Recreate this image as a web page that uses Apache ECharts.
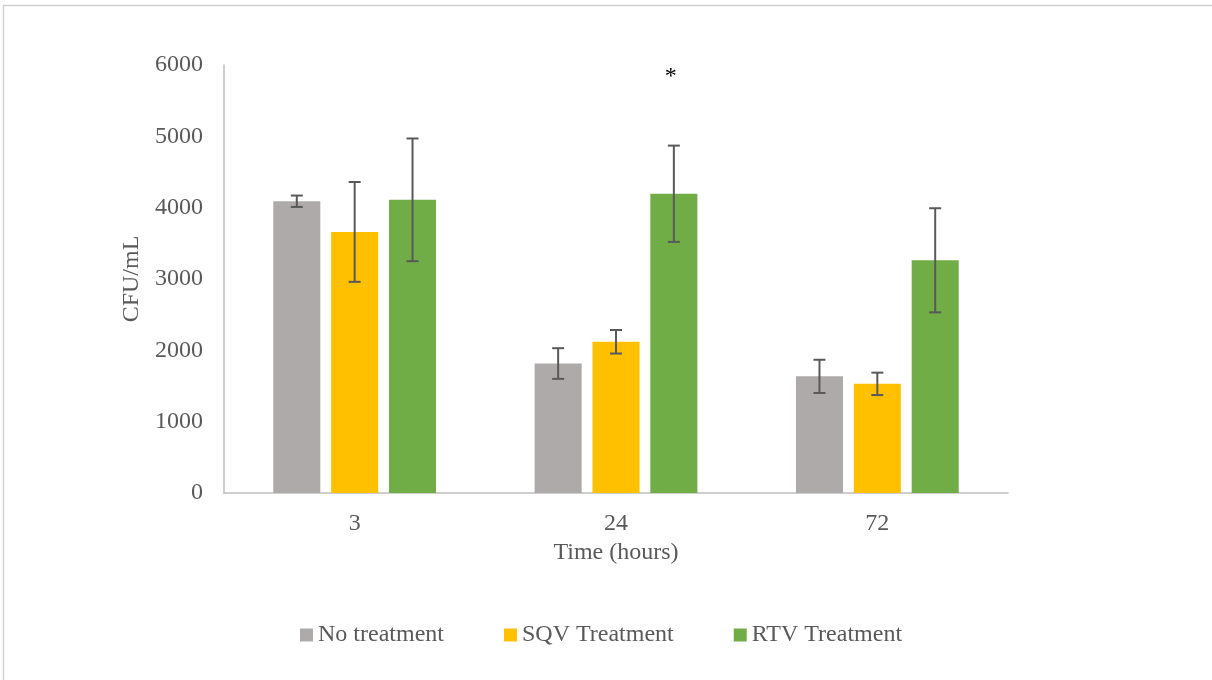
<!DOCTYPE html>
<html>
<head>
<meta charset="utf-8">
<script src="https://cdn.jsdelivr.net/npm/echarts@6/dist/echarts.min.js"></script>
<style>
  html, body { margin: 0; padding: 0; background: #fff; }
  #chart { width: 1212px; height: 680px; }
</style>
</head>
<body>
<div id="chart"></div>
<script>
// Colony counts over time for each treatment group
const timePoints = ['3', '24', '72'];
const seriesNames = ['No treatment', 'SQV Treatment', 'RTV Treatment'];
const noTreatment = [4090, 1815, 1635];
const sqvTreatment = [3660, 2120, 1530];
const rtvTreatment = [4110, 4195, 3262];
// Standard deviation for each bar
const noTreatmentErr = [80, 215, 233];
const sqvTreatmentErr = [700, 165, 157];
const rtvTreatmentErr = [860, 675, 730];
// Significance markers shown above the RTV bars
const rtvSignificance = ['', '*', ''];
const yTicks = [0, 1000, 2000, 3000, 4000, 5000, 6000];

const colors = ['#AEAAAA', '#FFC000', '#70AD47'];
const values = [noTreatment, sqvTreatment, rtvTreatment];
const errors = [noTreatmentErr, sqvTreatmentErr, rtvTreatmentErr];
const marks = [null, null, rtvSignificance];

const BAR_WIDTH_RATIO = 0.18;
const BAR_GAP_RATIO = 0.23;
const FONT = '"Liberation Serif", "Times New Roman", serif';
const FONT_SIZE = 24;
const TEXT_COLOR = '#595959';

const chart = echarts.init(document.getElementById('chart'), null, { renderer: 'canvas' });

const barSeries = values.map((vals, i) => ({
  name: seriesNames[i],
  type: 'bar',
  data: vals,
  barWidth: (BAR_WIDTH_RATIO * 100) + '%',
  barGap: (BAR_GAP_RATIO * 100) + '%',
  itemStyle: { color: colors[i] },
  z: 2
}));

const errorSeries = values.map((vals, i) => ({
  name: seriesNames[i] + ' error',
  type: 'custom',
  data: vals.map((v, k) => [k, v, errors[i][k]]),
  z: 5,
  silent: true,
  renderItem: function (params, api) {
    const k = api.value(0);
    const v = api.value(1);
    const e = api.value(2);
    const band = api.size([1, 0])[0];
    const barW = band * BAR_WIDTH_RATIO;
    const gap = barW * BAR_GAP_RATIO;
    const offset = (i - 1) * (barW + gap);
    const hi = api.coord([k, v + e]);
    const lo = api.coord([k, v - e]);
    const x = hi[0] + offset;
    const cap = 6;
    const style = { stroke: '#595959', lineWidth: 2 };
    const children = [
      { type: 'line', shape: { x1: x, y1: hi[1], x2: x, y2: lo[1] }, style: style },
      { type: 'line', shape: { x1: x - cap, y1: hi[1], x2: x + cap, y2: hi[1] }, style: style },
      { type: 'line', shape: { x1: x - cap, y1: lo[1], x2: x + cap, y2: lo[1] }, style: style }
    ];
    const m = marks[i] ? marks[i][k] : '';
    if (m) {
      children.push({
        type: 'text',
        style: {
          text: m, x: x - 3, y: params.coordSys.y + 12,
          fill: '#000', font: '24px ' + FONT,
          textAlign: 'center', textVerticalAlign: 'middle'
        }
      });
    }
    return { type: 'group', children: children };
  }
}));

chart.setOption({
  animation: false,
  backgroundColor: '#fff',
  textStyle: { fontFamily: FONT },
  graphic: [{
    type: 'rect',
    shape: { x: 3.5, y: 5.5, width: 1220, height: 700 },
    style: { fill: 'none', stroke: '#D0D0D0', lineWidth: 1.5 },
    silent: true
  }],
  grid: { left: 224, right: 204, top: 65, bottom: 187, containLabel: false },
  legend: {
    data: seriesNames,
    left: 300,
    top: 623,
    padding: 0,
    icon: 'rect',
    itemWidth: 13,
    itemHeight: 13,
    itemGap: 60,
    textStyle: { color: TEXT_COLOR, fontSize: FONT_SIZE, fontFamily: FONT }
  },
  xAxis: {
    type: 'category',
    data: timePoints,
    name: 'Time (hours)',
    nameLocation: 'middle',
    nameGap: 47,
    nameTextStyle: { color: TEXT_COLOR, fontSize: FONT_SIZE, fontFamily: FONT },
    axisLine: { lineStyle: { color: '#BFBFBF', width: 1.5 } },
    axisTick: { show: false },
    axisLabel: { color: TEXT_COLOR, fontSize: FONT_SIZE, fontFamily: FONT, margin: 19 },
    splitLine: { show: false }
  },
  yAxis: {
    type: 'value',
    min: yTicks[0],
    max: yTicks[yTicks.length - 1],
    interval: yTicks[1] - yTicks[0],
    name: 'CFU/mL',
    nameLocation: 'middle',
    nameGap: 77,
    nameTextStyle: { color: TEXT_COLOR, fontSize: FONT_SIZE, fontFamily: FONT },
    axisLine: { show: true, lineStyle: { color: '#BFBFBF', width: 1.5 } },
    axisTick: { show: false },
    axisLabel: { color: TEXT_COLOR, fontSize: FONT_SIZE, fontFamily: FONT, margin: 21, formatter: v => String(v) },
    splitLine: { show: false }
  },
  series: barSeries.concat(errorSeries)
});
</script>
</body>
</html>
